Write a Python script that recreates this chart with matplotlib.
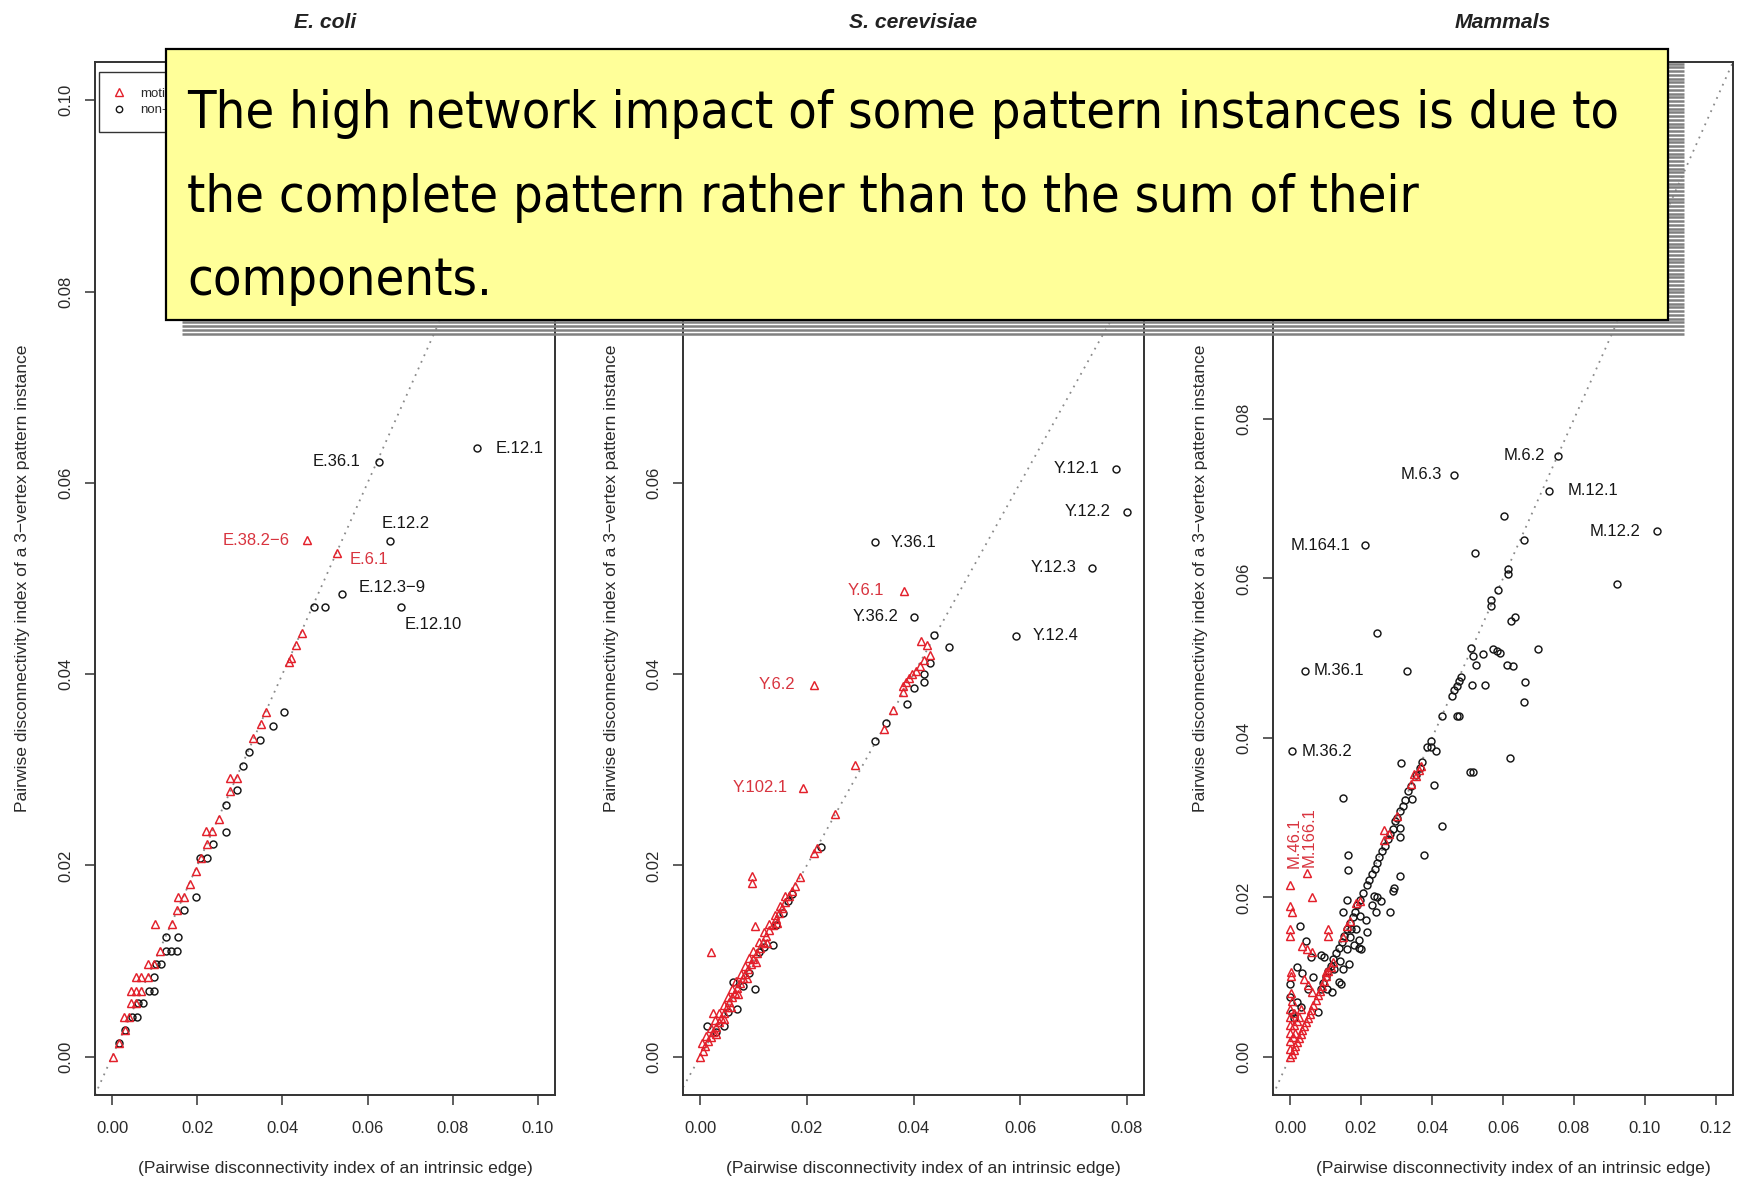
import numpy as np
import matplotlib
matplotlib.use("Agg")
import matplotlib.pyplot as plt
from matplotlib.lines import Line2D
from matplotlib.patches import Rectangle
from matplotlib.font_manager import FontProperties, fontManager

# ------------------------------------------------------------------ data
titles = ["E. coli", "S. cerevisiae", "Mammals"]
x_label = "(Pairwise disconnectivity index of an intrinsic edge)"
y_label = "Pairwise disconnectivity index of a 3\u2212vertex pattern instance"
legend_labels = ["motif", "non-motif"]

x_ranges = [(0.0, 0.10), (0.0, 0.08), (0.0, 0.12)]
y_ranges = [(0.0, 0.10), (0.0, 0.10), (0.0, 0.12)]
x_ticks = [[0.00, 0.02, 0.04, 0.06, 0.08, 0.10],
           [0.00, 0.02, 0.04, 0.06, 0.08],
           [0.00, 0.02, 0.04, 0.06, 0.08, 0.10, 0.12]]
y_ticks = [[0.00, 0.02, 0.04, 0.06, 0.08, 0.10],
           [0.00, 0.02, 0.04, 0.06, 0.08, 0.10],
           [0.00, 0.02, 0.04, 0.06, 0.08, 0.10, 0.12]]

# (edge index, pattern index) pairs; named instances: (name, x, y, is_motif)
ecoli_motif = [
    (0.0447, 0.0443), (0.0432, 0.0430), (0.0421, 0.0417), (0.0415, 0.0413), (0.0361, 0.0360),
    (0.0349, 0.0348), (0.0332, 0.0333), (0.0276, 0.0291), (0.0293, 0.0291), (0.0277, 0.0278),
    (0.0251, 0.0249), (0.0221, 0.0236), (0.0235, 0.0236), (0.0224, 0.0222), (0.0209, 0.0208),
    (0.0196, 0.0194), (0.0182, 0.0181), (0.0154, 0.0167), (0.0169, 0.0167), (0.0152, 0.0153),
    (0.0100, 0.0139), (0.0141, 0.0139), (0.0112, 0.0111), (0.0085, 0.0097), (0.0099, 0.0097),
    (0.0056, 0.0083), (0.0069, 0.0083), (0.0085, 0.0083), (0.0045, 0.0069), (0.0056, 0.0069),
    (0.0067, 0.0069), (0.0045, 0.0056), (0.0056, 0.0056), (0.0029, 0.0042), (0.0040, 0.0042),
    (0.0030, 0.0028), (0.0016, 0.0014), (0.0002, 0.0000),
]
ecoli_other = [
    (0.0473, 0.0470), (0.0500, 0.0470), (0.0404, 0.0360), (0.0377, 0.0346), (0.0347, 0.0331),
    (0.0321, 0.0319), (0.0307, 0.0304), (0.0294, 0.0279), (0.0267, 0.0263), (0.0267, 0.0235),
    (0.0238, 0.0222), (0.0206, 0.0208), (0.0224, 0.0208), (0.0197, 0.0167), (0.0169, 0.0153),
    (0.0126, 0.0125), (0.0154, 0.0125), (0.0127, 0.0111), (0.0139, 0.0111), (0.0152, 0.0111),
    (0.0103, 0.0097), (0.0115, 0.0097), (0.0099, 0.0083), (0.0087, 0.0069), (0.0099, 0.0069),
    (0.0060, 0.0056), (0.0073, 0.0056), (0.0047, 0.0042), (0.0058, 0.0042), (0.0030, 0.0028),
    (0.0017, 0.0014),
]
ecoli_named = [
    ("E.12.1", 0.0858, 0.0636, False), ("E.36.1", 0.0626, 0.0622, False),
    ("E.12.2", 0.0653, 0.0539, False), ("E.38.2\u22126", 0.0457, 0.0540, True),
    ("E.6.1", 0.0529, 0.0527, True), ("E.12.3\u22129", 0.0541, 0.0484, False),
    ("E.12.10", 0.0679, 0.0470, False),
]

yeast_motif = [
    (0.0414, 0.0435), (0.0425, 0.0430), (0.0430, 0.0420), (0.0420, 0.0415), (0.0412, 0.0408),
    (0.0405, 0.0403), (0.0398, 0.0400), (0.0392, 0.0396), (0.0386, 0.0392), (0.0380, 0.0388),
    (0.0380, 0.0381), (0.0362, 0.0363), (0.0344, 0.0343), (0.0290, 0.0305), (0.0253, 0.0254),
    (0.0213, 0.0213), (0.0220, 0.0218), (0.0188, 0.0188), (0.0098, 0.0189), (0.0098, 0.0182),
    (0.0103, 0.0137), (0.0020, 0.0110), (0.0025, 0.0046),
    (0.0000, 0.0000), (0.0005, 0.0006), (0.0010, 0.0011), (0.0015, 0.0016), (0.0020, 0.0021),
    (0.0025, 0.0026), (0.0030, 0.0031), (0.0035, 0.0036), (0.0040, 0.0041), (0.0045, 0.0046),
    (0.0050, 0.0052), (0.0055, 0.0057), (0.0060, 0.0062), (0.0065, 0.0067), (0.0070, 0.0072),
    (0.0075, 0.0077), (0.0080, 0.0082), (0.0085, 0.0087), (0.0090, 0.0092), (0.0095, 0.0097),
    (0.0100, 0.0102), (0.0106, 0.0108), (0.0112, 0.0114), (0.0118, 0.0120), (0.0124, 0.0126),
    (0.0130, 0.0132), (0.0136, 0.0138), (0.0142, 0.0144), (0.0148, 0.0150), (0.0154, 0.0156),
    (0.0160, 0.0162), (0.0166, 0.0168), (0.0172, 0.0173), (0.0178, 0.0178),
    (0.0004, 0.0014), (0.0012, 0.0022), (0.0020, 0.0030), (0.0028, 0.0038), (0.0036, 0.0046),
    (0.0044, 0.0054), (0.0052, 0.0062), (0.0060, 0.0071), (0.0068, 0.0079), (0.0076, 0.0087),
    (0.0084, 0.0095), (0.0092, 0.0103), (0.0100, 0.0111), (0.0110, 0.0120), (0.0120, 0.0130),
    (0.0130, 0.0139), (0.0140, 0.0148), (0.0150, 0.0158), (0.0160, 0.0168),
    (0.0030, 0.0024), (0.0045, 0.0039), (0.0058, 0.0052), (0.0072, 0.0066), (0.0088, 0.0082),
    (0.0105, 0.0099), (0.0125, 0.0119), (0.0145, 0.0140),
]
yeast_other = [
    (0.0439, 0.0441), (0.0466, 0.0428), (0.0431, 0.0412), (0.0419, 0.0400), (0.0419, 0.0392),
    (0.0400, 0.0386), (0.0388, 0.0369), (0.0348, 0.0349), (0.0328, 0.0330), (0.0226, 0.0219),
    (0.0172, 0.0170), (0.0165, 0.0163), (0.0142, 0.0138), (0.0136, 0.0117), (0.0111, 0.0109),
    (0.0103, 0.0071), (0.0070, 0.0050), (0.0061, 0.0078), (0.0045, 0.0032), (0.0013, 0.0032),
    (0.0030, 0.0026), (0.0052, 0.0047), (0.0080, 0.0074), (0.0092, 0.0088), (0.0120, 0.0115),
    (0.0155, 0.0150),
]
yeast_named = [
    ("Y.12.1", 0.0779, 0.0615, False), ("Y.12.2", 0.0800, 0.0570, False),
    ("Y.36.1", 0.0328, 0.0538, False), ("Y.12.3", 0.0734, 0.0511, False),
    ("Y.6.1", 0.0382, 0.0487, True), ("Y.36.2", 0.0400, 0.0460, False),
    ("Y.12.4", 0.0593, 0.0440, False), ("Y.6.2", 0.0213, 0.0389, True),
    ("Y.102.1", 0.0193, 0.0281, True),
]

mammal_motif = [
    (0.0061, 0.0200), (0.0000, 0.0189), (0.0005, 0.0181), (0.0000, 0.0160), (0.0000, 0.0151),
    (0.0108, 0.0160), (0.0108, 0.0152), (0.0035, 0.0139), (0.0048, 0.0135), (0.0061, 0.0131),
    (0.0003, 0.0106), (0.0003, 0.0101), (0.0040, 0.0097), (0.0050, 0.0090), (0.0061, 0.0081),
    (0.0369, 0.0365), (0.0362, 0.0360), (0.0355, 0.0352), (0.0266, 0.0285), (0.0266, 0.0272),
    (0.0186, 0.0193), (0.0160, 0.0164), (0.0102, 0.0106),
    (0.0000, 0.0000), (0.0005, 0.0004), (0.0010, 0.0009), (0.0015, 0.0014), (0.0020, 0.0019),
    (0.0025, 0.0024), (0.0030, 0.0029), (0.0035, 0.0034), (0.0040, 0.0039), (0.0045, 0.0044),
    (0.0050, 0.0049), (0.0055, 0.0054), (0.0060, 0.0059), (0.0066, 0.0065), (0.0072, 0.0071),
    (0.0078, 0.0077), (0.0084, 0.0083), (0.0090, 0.0089), (0.0096, 0.0095), (0.0102, 0.0101),
    (0.0108, 0.0107), (0.0114, 0.0113), (0.0120, 0.0119),
    (0.0000, 0.0010), (0.0000, 0.0020), (0.0000, 0.0030), (0.0000, 0.0040), (0.0000, 0.0050),
    (0.0000, 0.0060), (0.0005, 0.0070), (0.0010, 0.0040), (0.0012, 0.0055), (0.0008, 0.0025),
    (0.0020, 0.0045), (0.0003, 0.0080), (0.0015, 0.0030), (0.0025, 0.0050), (0.0030, 0.0060),
    (0.0150, 0.0150), (0.0170, 0.0170), (0.0196, 0.0195), (0.0280, 0.0280), (0.0300, 0.0302),
    (0.0340, 0.0342), (0.0350, 0.0355),
]
mammal_other = [
    (0.0602, 0.0679), (0.0660, 0.0648), (0.0520, 0.0632), (0.0613, 0.0612), (0.0613, 0.0606),
    (0.0920, 0.0593), (0.0587, 0.0586), (0.0567, 0.0573), (0.0567, 0.0566), (0.0634, 0.0552),
    (0.0623, 0.0547), (0.0246, 0.0532), (0.0700, 0.0511), (0.0511, 0.0513), (0.0515, 0.0503),
    (0.0543, 0.0505), (0.0572, 0.0512), (0.0582, 0.0509), (0.0591, 0.0506), (0.0525, 0.0492),
    (0.0611, 0.0492), (0.0629, 0.0490), (0.0330, 0.0484), (0.0483, 0.0477), (0.0476, 0.0472),
    (0.0470, 0.0465), (0.0463, 0.0460), (0.0457, 0.0453), (0.0514, 0.0467), (0.0550, 0.0466),
    (0.0663, 0.0470), (0.0660, 0.0445), (0.0427, 0.0427), (0.0470, 0.0428), (0.0475, 0.0428),
    (0.0396, 0.0396), (0.0396, 0.0389), (0.0412, 0.0383), (0.0386, 0.0388), (0.0621, 0.0375),
    (0.0314, 0.0368), (0.0508, 0.0357), (0.0515, 0.0357),
    (0.0372, 0.0370), (0.0365, 0.0362), (0.0355, 0.0354), (0.0405, 0.0341), (0.0340, 0.0340),
    (0.0333, 0.0333), (0.0344, 0.0323), (0.0150, 0.0324), (0.0325, 0.0322), (0.0318, 0.0315),
    (0.0310, 0.0308), (0.0302, 0.0300), (0.0296, 0.0296), (0.0427, 0.0290), (0.0310, 0.0287),
    (0.0310, 0.0276), (0.0290, 0.0286), (0.0282, 0.0280), (0.0275, 0.0273), (0.0377, 0.0253),
    (0.0162, 0.0253), (0.0162, 0.0234), (0.0268, 0.0265), (0.0260, 0.0258), (0.0252, 0.0250),
    (0.0245, 0.0243), (0.0238, 0.0236), (0.0230, 0.0229), (0.0223, 0.0222), (0.0216, 0.0215),
    (0.0310, 0.0227), (0.0290, 0.0208), (0.0292, 0.0212), (0.0281, 0.0182), (0.0242, 0.0181),
    (0.0237, 0.0202), (0.0214, 0.0172), (0.0196, 0.0177), (0.0218, 0.0156), (0.0173, 0.0160),
    (0.0194, 0.0147), (0.0194, 0.0137), (0.0200, 0.0135), (0.0160, 0.0197), (0.0150, 0.0182),
    (0.0170, 0.0150), (0.0185, 0.0160), (0.0230, 0.0190), (0.0245, 0.0200), (0.0255, 0.0195),
    (0.0180, 0.0140), (0.0160, 0.0135), (0.0140, 0.0120), (0.0125, 0.0110), (0.0150, 0.0110),
    (0.0105, 0.0085),
    (0.0205, 0.0205), (0.0198, 0.0197), (0.0190, 0.0190), (0.0183, 0.0182), (0.0176, 0.0175),
    (0.0168, 0.0168), (0.0160, 0.0160), (0.0152, 0.0152), (0.0145, 0.0144), (0.0138, 0.0137),
    (0.0130, 0.0130), (0.0122, 0.0122), (0.0115, 0.0114), (0.0108, 0.0107), (0.0100, 0.0100),
    (0.0093, 0.0092), (0.0086, 0.0085),
    (0.0027, 0.0164), (0.0087, 0.0128), (0.0097, 0.0125), (0.0165, 0.0116), (0.0139, 0.0094),
    (0.0144, 0.0091), (0.0118, 0.0081), (0.0019, 0.0112), (0.0000, 0.0091), (0.0000, 0.0075),
    (0.0019, 0.0069), (0.0030, 0.0062), (0.0078, 0.0056), (0.0005, 0.0055), (0.0012, 0.0048),
    (0.0045, 0.0145), (0.0060, 0.0125), (0.0035, 0.0105), (0.0065, 0.0100), (0.0050, 0.0085),
]
mammal_named = [
    ("M.6.2", 0.0756, 0.0754, False), ("M.6.3", 0.0462, 0.0730, False),
    ("M.12.1", 0.0731, 0.0710, False), ("M.12.2", 0.1035, 0.0659, False),
    ("M.164.1", 0.0211, 0.0642, False), ("M.36.1", 0.0043, 0.0484, False),
    ("M.36.2", 0.0006, 0.0383, False), ("M.46.1", 0.0000, 0.0216, True),
    ("M.166.1", 0.0048, 0.0231, True),
]

callout_lines = [
    "The high network impact of some pattern instances is due to",
    "the complete pattern rather than to the sum of their",
    "components.",
]

# ------------------------------------------------------------------ style
W, H = 1742, 1178
plt.rcParams["font.family"] = ["Liberation Sans", "DejaVu Sans"]

RED = "#E3202B"
RED_TEXT = "#D8343F"
INK = "#161616"
FRAME = "#333333"
DIAG = "#8a8a8a"

# label placement: (dx px, dy px upward, ha, va, rotation)
label_place = {
    "E.12.1": (18, 0, "left", "center", 0), "E.36.1": (-18, 0, "right", "center", 0),
    "E.12.2": (16, 18, "center", "center", 0), "E.38.2\u22126": (-17, 0, "right", "center", 0),
    "E.6.1": (12, -7, "left", "center", 0), "E.12.3\u22129": (16, 6, "left", "center", 0),
    "E.12.10": (3, -17, "left", "center", 0),
    "Y.12.1": (-16, 0, "right", "center", 0), "Y.12.2": (-16, 0, "right", "center", 0),
    "Y.36.1": (16, 0, "left", "center", 0), "Y.12.3": (-15, 0, "right", "center", 0),
    "Y.6.1": (-20, 0, "right", "center", 0), "Y.36.2": (-15, 0, "right", "center", 0),
    "Y.12.4": (16, 0, "left", "center", 0), "Y.6.2": (-18, 0, "right", "center", 0),
    "Y.102.1": (-15, 0, "right", "center", 0),
    "M.6.2": (-13, 0, "right", "center", 0), "M.6.3": (-12, 0, "right", "center", 0),
    "M.12.1": (18, 0, "left", "center", 0), "M.12.2": (-17, 0, "right", "center", 0),
    "M.164.1": (-14, 0, "right", "center", 0), "M.36.1": (8, 0, "left", "center", 0),
    "M.36.2": (9, 0, "left", "center", 0), "M.46.1": (4, 17, "center", "bottom", 90),
    "M.166.1": (2, 6, "center", "bottom", 90),
}

panel_boxes = [(95, 62, 555, 1095), (683, 62, 1144, 1095), (1273, 62, 1733, 1095)]
note_box = (166, 49, 1668, 320)          # left, top, right, bottom (pixels)
shadow_shift = (16, 14)


def px_rect(left, top, right, bottom):
    return [left / W, 1 - bottom / H, (right - left) / W, (bottom - top) / H]


def padded(lo, hi, frac=0.04):
    span = hi - lo
    return lo - frac * span, hi + frac * span


fig = plt.figure(figsize=(W / 100, H / 100), dpi=100)
fig.patch.set_facecolor("white")

panels = [(ecoli_motif, ecoli_other, ecoli_named),
          (yeast_motif, yeast_other, yeast_named),
          (mammal_motif, mammal_other, mammal_named)]

circle_kw = dict(ls="none", marker="o", ms=5.0, mfc="none", mec=INK, mew=1.05)
tri_kw = dict(ls="none", marker="^", ms=6.3, mfc="none", mec=RED, mew=1.05)

for i, (motif, other, named) in enumerate(panels):
    box = panel_boxes[i]
    ax = fig.add_axes(px_rect(*box))
    ax.set_xlim(*padded(*x_ranges[i]))
    ax.set_ylim(*padded(*y_ranges[i]))
    ax.axline((0, 0), slope=1, color=DIAG, lw=1.3, ls=(0, (1, 3)), zorder=1)

    ox = [p[0] for p in other] + [n[1] for n in named if not n[3]]
    oy = [p[1] for p in other] + [n[2] for n in named if not n[3]]
    mx = [p[0] for p in motif] + [n[1] for n in named if n[3]]
    my = [p[1] for p in motif] + [n[2] for n in named if n[3]]
    ax.plot(ox, oy, zorder=2, **circle_kw)
    ax.plot(mx, my, zorder=3, **tri_kw)

    for name, x, y, is_motif in named:
        dx, dy, ha, va, rot = label_place[name]
        ax.annotate(name, (x, y), xytext=(dx, dy), textcoords="offset pixels",
                    ha=ha, va=va, rotation=rot, fontsize=12,
                    color=RED_TEXT if is_motif else INK, zorder=4)

    ax.set_xticks(x_ticks[i])
    ax.set_yticks(y_ticks[i])
    ax.set_xticklabels([f"{v:.2f}" for v in x_ticks[i]])
    ax.set_yticklabels([f"{v:.2f}" for v in y_ticks[i]])
    ax.tick_params(direction="out", length=7.5, width=1.1, color=FRAME,
                   labelsize=12, labelcolor="#2a2a2a")
    ax.tick_params(axis="x", pad=11.5)
    ax.tick_params(axis="y", pad=8.2, labelrotation=90)
    # y tick labels that fall under the note (with its shadow) are covered
    label_x_px = box[0] - 31
    for v, lbl in zip(y_ticks[i], ax.get_yticklabels()):
        lbl.set_va("center")
        y_px = H - ax.transData.transform((0, v))[1]
        if (note_box[0] < label_x_px < note_box[2] + shadow_shift[0]
                and y_px < note_box[3] + shadow_shift[1]):
            lbl.set_visible(False)
    for s in ax.spines.values():
        s.set_color(FRAME)
        s.set_linewidth(1.4)

    width_px = box[2] - box[0]
    height_px = box[3] - box[1]
    ax.set_xlabel(x_label, fontsize=12.6, color="#2a2a2a")
    ax.xaxis.set_label_coords(0.5 + 10 / width_px, -(1168 - box[3]) / height_px)
    ax.xaxis.label.set_va("center")
    ax.set_ylabel(y_label, fontsize=12.6, color="#2a2a2a")
    ax.yaxis.set_label_coords(-72 / width_px, 0.5)
    ax.yaxis.label.set_va("center")
    ax.text(0.5, 1 + 39 / height_px, titles[i], transform=ax.transAxes,
            ha="center", va="center", fontsize=15.2, fontweight="bold",
            fontstyle="italic", color="#222222")

    if i == 0:
        handles = [Line2D([], [], ls="none", marker="^", ms=5.6, mfc="none", mec=RED, mew=1.0),
                   Line2D([], [], ls="none", marker="o", ms=4.6, mfc="none", mec=INK, mew=1.0)]
        leg = ax.legend(handles, legend_labels, loc="upper left",
                        bbox_to_anchor=((99 - box[0]) / width_px, (box[3] - 72) / height_px),
                        borderaxespad=0, fancybox=False, framealpha=1, edgecolor=FRAME,
                        fontsize=9.5, handlelength=0.6, handletextpad=1.3,
                        borderpad=1.2, labelspacing=0.3)
        leg.get_frame().set_linewidth(1.0)
        for t in leg.get_texts():
            t.set_color("#2a2a2a")

# ------------------------------------------------------------------ callout
ov = fig.add_axes([0, 0, 1, 1])
ov.set_xlim(0, W)
ov.set_ylim(H, 0)
ov.axis("off")

# striped drop shadow behind the note
sx0 = note_box[0] + shadow_shift[0]
sx1 = note_box[2] + shadow_shift[0]
stripe_rows = np.arange(note_box[1] + shadow_shift[1] + 0.5, note_box[3] + shadow_shift[1] + 0.5, 3.75)
ov.hlines(stripe_rows, sx0, sx1, colors="#808080", linewidth=1.8, zorder=1)
ov.add_patch(Rectangle((note_box[0], note_box[1]), note_box[2] - note_box[0],
                       note_box[3] - note_box[1], facecolor="#FFFF99",
                       edgecolor="black", linewidth=1.6, zorder=2))


def callout_font():
    for f in fontManager.ttflist:
        if (f.name.startswith("DejaVu Sans") and "Mono" not in f.name
                and f.stretch == "condensed" and f.style == "normal"
                and f.weight in (400, "normal", "book", "regular")):
            return FontProperties(fname=f.fname)
    return FontProperties(family="DejaVu Sans")


fp = callout_font()
base_size = 34
baselines = [128, 212, 295]
note_texts = [ov.text(187, yb, line, fontproperties=fp, fontsize=base_size,
                      ha="left", va="baseline", color="black", zorder=3)
              for line, yb in zip(callout_lines, baselines)]
renderer = fig.canvas.get_renderer()
w0 = note_texts[0].get_window_extent(renderer=renderer).width
for t in note_texts:
    t.set_fontsize(base_size * 1433 / w0)

fig.savefig("out.png", dpi=100, facecolor="white")
